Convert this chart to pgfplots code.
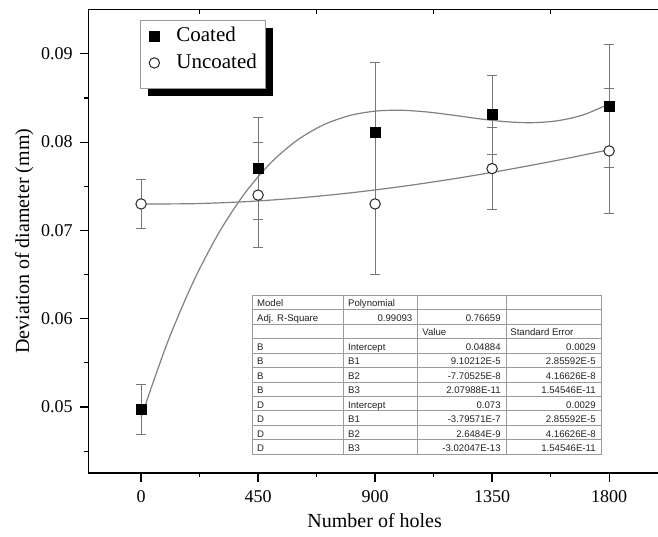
\documentclass[border=0pt]{standalone}
\usepackage{pgfplots}
\pgfplotsset{compat=1.18}
\usepackage{pgfplotstable}
\usepackage{fontspec}
\setmainfont{Liberation Serif}
\newfontfamily\tabfont{Liberation Sans}

\definecolor{fitgray}{HTML}{808080}
\definecolor{errgray}{HTML}{777777}
\definecolor{tabline}{HTML}{9A9A9A}
\definecolor{tabtext}{HTML}{222222}

\pgfplotstableread{
x y e
0 0.0497 0.0028
450 0.0770 0.0058
900 0.0811 0.0079
1350 0.0831 0.0045
1800 0.0841 0.0070
}\coated
\pgfplotstableread{
x y e
0 0.0730 0.0028
450 0.0740 0.0059
900 0.0730 0.0080
1350 0.0770 0.0046
1800 0.0790 0.0071
}\uncoated

\begin{document}
\begin{tikzpicture}
% legend box with shadow (pixel coordinates of the reference)
\begin{scope}[x=0.5pt, y=-0.5pt, shift={(-44.15pt,236.5pt)}]
  \fill[black] (147.7,27.7) rectangle (272.7,96);
  \filldraw[fill=white, draw=gray!80, line width=0.5pt] (140.7,20.7) rectangle (265.7,89);
\end{scope}
\begin{axis}[
  at={(0,0)}, anchor=south west,
  scale only axis, width=286.4pt, height=231.85pt,
  xmin=-203, xmax=2000, ymin=0.04253, ymax=0.09504,
  axis line style={line width=0.75pt},
  tick style={black, line width=0.6pt},
  tick align=outside,
  major tick length=4.3pt, minor tick length=2.2pt,
  xtick pos=bottom, ytick pos=left,
  xtick={0,450,900,1350,1800},
  minor xtick={225,675,1125,1575},
  ytick={0.05,0.06,0.07,0.08,0.09},
  minor ytick={0.045,0.055,0.065,0.075,0.085},
  yticklabel style={/pgf/number format/.cd, fixed, fixed zerofill, precision=2, assume math mode=true},
  xticklabel style={yshift=-1pt, /pgf/number format/.cd, 1000 sep={}, assume math mode=true},
  scaled y ticks=false,
  tick label style={font=\fontsize{9}{10}\selectfont},
  label style={font=\fontsize{11}{13}\selectfont},
  xlabel={Number of holes},
  ylabel={Deviation of diameter (mm)},
  every axis x label/.style={at={(axis description cs:0.5,-0.1035)}, anchor=center},
  every axis y label/.style={at={(axis description cs:-0.1120,0.5)}, rotate=90, anchor=center},
  legend style={at={(axis description cs:0.1042,0.9623)}, anchor=north west,
    draw=none, fill=none, inner sep=0pt, row sep=4.7pt, column sep=8pt,
    font=\fontsize{10.5}{12}\selectfont,
    nodes={inner sep=0pt, anchor=west}},
  legend cell align=left,
  legend image code/.code={\path[draw=none, fill=none] (-3pt,-3.5pt) (3pt,3.5pt); \draw[#1] plot coordinates {(0pt,0pt)};},
]
% fitted polynomial curves
\addplot[fitgray, line width=0.6pt, smooth, forget plot] coordinates {
(0,0.04884) (100,0.0571924) (200,0.0641285) (300,0.0697732) (400,0.0742512)
(500,0.0776873) (600,0.0802064) (700,0.0819331) (800,0.0829924) (900,0.0835089)
(1000,0.0836075) (1100,0.0834130) (1200,0.0830502) (1300,0.0826438) (1400,0.0823187)
(1500,0.0821996) (1600,0.0824114) (1700,0.0830788) (1800,0.0843267)};
\addplot[fitgray, line width=0.6pt, smooth, forget plot] coordinates {
(0,0.0730000) (200,0.0730276) (400,0.0732526) (600,0.0736604) (800,0.0742367)
(1000,0.0749668) (1200,0.0758363) (1400,0.0768306) (1600,0.0779354) (1800,0.0791361)};
% data with error bars
\addplot[only marks, mark=square*, mark size=2.5pt, mark options={fill=black, draw=black},
  error bars/.cd, y dir=both, y explicit,
  error bar style={errgray, line width=0.5pt},
  error mark options={rotate=90, mark size=2.6pt, errgray, line width=0.5pt}]
  table[x=x, y=y, y error=e] {\coated};
\addlegendentry{Coated}
\addplot[only marks, mark=*, mark size=2.6pt, mark options={fill=white, draw=black!85, line width=0.5pt},
  error bars/.cd, y dir=both, y explicit,
  error bar style={errgray, line width=0.5pt},
  error mark options={rotate=90, mark size=2.6pt, errgray, line width=0.5pt}]
  table[x=x, y=y, y error=e] {\uncoated};
\addlegendentry{Uncoated}
% top axis ticks
\draw[black, line width=0.6pt] (axis cs:225,0.09504) -- ([yshift=-2.4pt]axis cs:225,0.09504);
\draw[black, line width=0.6pt] (axis cs:675,0.09504) -- ([yshift=-2.4pt]axis cs:675,0.09504);
\draw[black, line width=0.6pt] (axis cs:1125,0.09504) -- ([yshift=-2.4pt]axis cs:1125,0.09504);
\draw[black, line width=0.6pt] (axis cs:1575,0.09504) -- ([yshift=-2.4pt]axis cs:1575,0.09504);
\end{axis}
% parameter table (pixel coordinates of the reference)
\begin{scope}[x=0.5pt, y=-0.5pt, shift={(-44.15pt,236.5pt)}, font=\tabfont\fontsize{4.8}{5.5}\selectfont, text=tabtext]
  \filldraw[fill=white, draw=tabline, line width=0.4pt] (252.3,295) rectangle (601,454.3);
  \foreach \yy in {309.5,324,338.4,352.9,367.4,381.9,396.4,410.8,425.3,439.8} {
    \draw[tabline, line width=0.4pt] (252.3,\yy) -- (601,\yy);
  }
  \foreach \xx in {343.3,417.7,506} {
    \draw[tabline, line width=0.4pt] (\xx,295) -- (\xx,454.3);
  }
  % row 0
  \node[anchor=mid west, inner sep=0pt] at (256.7,302.2) {Model};
  \node[anchor=mid west, inner sep=0pt] at (347.7,302.2) {Polynomial};
  % row 1
  \node[anchor=mid west, inner sep=0pt] at (256.7,316.7) {Adj. R-Square};
  \node[anchor=mid east, inner sep=0pt] at (412.7,316.7) {0.99093};
  \node[anchor=mid east, inner sep=0pt] at (501,316.7) {0.76659};
  % row 2
  \node[anchor=mid west, inner sep=0pt] at (422,331.2) {Value};
  \node[anchor=mid west, inner sep=0pt] at (510,331.2) {Standard Error};
  % rows 3-10
  \foreach \yy/\ca/\cb/\cc/\cd in {
    345.7/B/Intercept/0.04884/0.0029,
    360.2/B/B1/9.10212E-5/2.85592E-5,
    374.6/B/B2/-7.70525E-8/4.16626E-8,
    389.1/B/B3/2.07988E-11/1.54546E-11,
    403.6/D/Intercept/0.073/0.0029,
    418.1/D/B1/-3.79571E-7/2.85592E-5,
    432.6/D/B2/2.6484E-9/4.16626E-8,
    447.1/D/B3/-3.02047E-13/1.54546E-11} {
    \node[anchor=mid west, inner sep=0pt] at (256.7,\yy) {\ca};
    \node[anchor=mid west, inner sep=0pt] at (347.7,\yy) {\cb};
    \node[anchor=mid east, inner sep=0pt] at (501,\yy) {\cc};
    \node[anchor=mid east, inner sep=0pt] at (596,\yy) {\cd};
  }
\end{scope}
\pgfresetboundingbox
\path (-44.15pt,-31.5pt) rectangle (284.85pt,236.5pt);
\end{tikzpicture}
\end{document}
